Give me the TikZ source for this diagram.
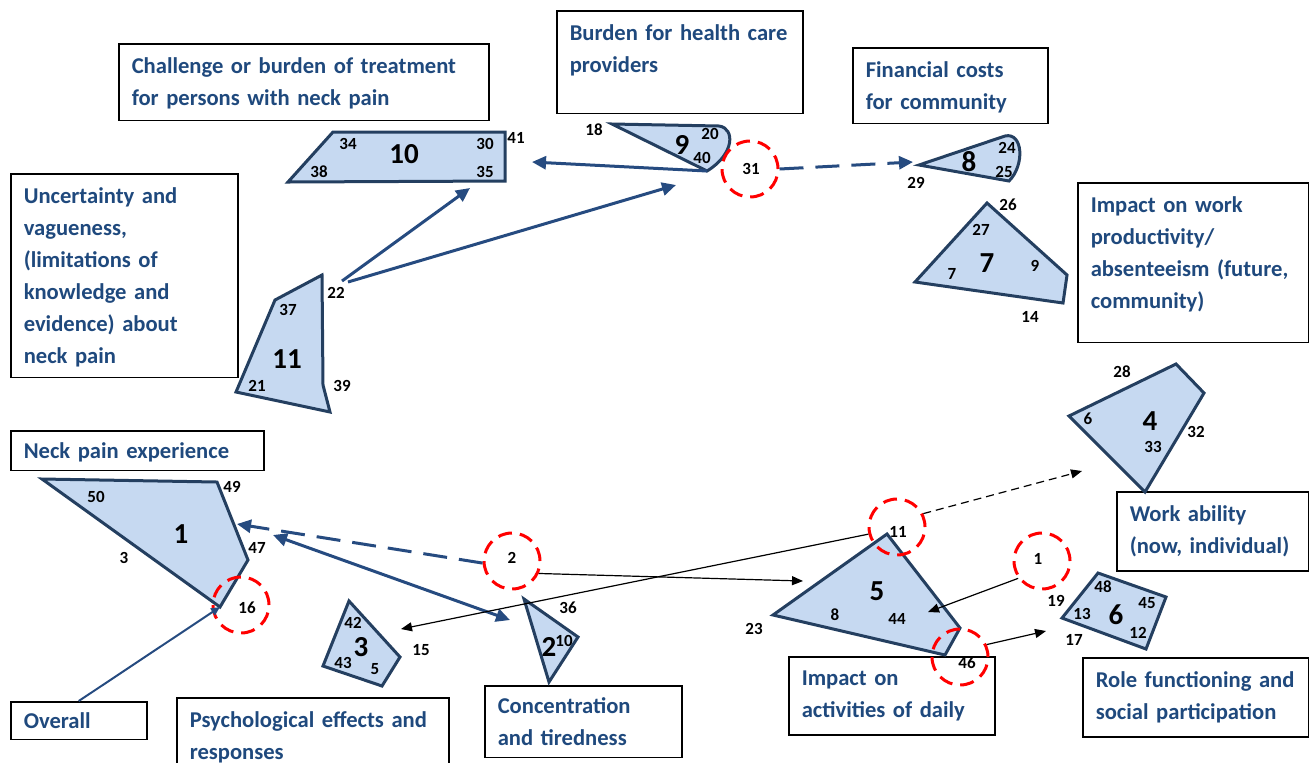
\documentclass[tikz,border=0pt]{standalone}
\usepackage{fontspec}
\setmainfont{Carlito}
\usetikzlibrary{arrows.meta}
\definecolor{txtblue}{RGB}{31,73,125}
\definecolor{polyfill}{RGB}{198,217,241}
\definecolor{polyedge}{RGB}{36,63,96}
\definecolor{arrblue}{RGB}{38,75,128}

\begin{document}
\begin{tikzpicture}[x=0.5pt, y=-0.5pt,
    box/.style={draw=black, line width=0.75pt, anchor=north west, align=left, text=txtblue,
      font=\fontsize{11.3}{16}\selectfont\bfseries, inner xsep=6.5pt, inner ysep=7pt, text width=#1},
    poly/.style={draw=polyedge, fill=polyfill, line width=1.5pt, line join=miter},
    num/.style={font=\fontsize{8.5}{10}\selectfont\bfseries, inner sep=0pt},
    big/.style={font=\fontsize{14.5}{16}\selectfont\bfseries, inner sep=0pt},
    ring/.style={circle, draw=red, line width=1.5pt, dash pattern=on 7pt off 4pt, minimum size=28pt, inner sep=0pt},
    arr/.style={draw=arrblue, line width=1.5pt, -{Triangle[length=7pt,width=6.5pt]}},
    darr/.style={arr, dash pattern=on 12pt off 6pt},
    fine/.style={draw=black, line width=0.6pt, -{Triangle[length=5.5pt,width=4.5pt]}},
    dfine/.style={fine, dash pattern=on 4pt off 2.5pt}]
  \useasboundingbox (0,0) rectangle (1309,762);
  \clip (0,0) rectangle (1309,762);

  % text boxes
  \node[box=172pt, text depth=16.5pt] (chal) at (118,43) {Challenge or burden of treatment\\for persons with neck pain};
  \node[box=110pt, text depth=29.5pt] (burden) at (556,10) {\mbox{Burden for health care}\\providers};
  \node[box=84.5pt, text depth=16pt] (fincost) at (852,47) {Financial costs\\for community};
  \node[box=100.5pt, text depth=80pt] (uncert) at (10,173) {Uncertainty and\\vagueness,\\(limitations of\\knowledge and\\evidence) about\\neck pain};
  \node[box=102.5pt, text depth=58pt] (workprod) at (1077,182) {Impact on work\\productivity/\\\mbox{absenteeism (future,}\\community)};
  \node[box=113.5pt, inner ysep=6pt, text depth=0pt] (neckpain) at (10,430) {Neck pain experience};
  \node[box=83pt] (workab) at (1116,491) {Work ability\\(now, individual)};
  \node[box=55pt, inner ysep=5.5pt, text depth=0pt] (overall) at (10,701) {Overall};
  \node[box=123pt] (psych) at (176,697) {Psychological effects and\\responses};
  \node[box=85.5pt, inner ysep=6pt, text depth=16pt] (concen) at (484,685) {Concentration\\and tiredness};
  \node[box=90pt] (daily) at (788,656) {Impact on\\activities of daily};
  \node[box=100pt] (role) at (1082,657) {\mbox{Role functioning and}\\social participation};

  % polygons
  \draw[poly] (288,182) -- (333,132) -- (505,132) -- (505,181) -- cycle;
  \draw[poly] (612,124) -- (719,126) .. controls (735,128) and (735,154) .. (707,171) -- cycle;
  \draw[poly] (919,165) -- (1005,136) .. controls (1023,132) and (1025,165) .. (1009,181) -- cycle;
  \draw[poly] (987,203) -- (1067,275) -- (1063,303) -- (915,282) -- cycle;
  \draw[poly] (322,275) -- (275,300) -- (236,392) -- (330,412) -- (323,385) -- cycle;
  \draw[poly] (1176,364) -- (1204,393) -- (1145,492) -- (1069,416) -- cycle;
  \draw[poly] (42,479) -- (217,482) -- (248,560) -- (220,607) -- cycle;
  \draw[poly] (349,601) -- (400,657) -- (382,686) -- (323,666) -- cycle;
  \draw[poly] (524,599) -- (578,637) -- (549,682) -- cycle;
  \draw[poly] (887,534) -- (960,628) -- (945,655) -- (773,615) -- cycle;
  \draw[poly] (1098,573) -- (1166,597) -- (1146,649) -- (1062,618) -- cycle;

  % numbers
  \node[big] (g10) at (404,154) {10};
  \node[num] (n34) at (348,144) {34};
  \node[num] (n30) at (485,144) {30};
  \node[num] (n38) at (319,172) {38};
  \node[num] (n35) at (485,172) {35};
  \node[num] (n41) at (516,138) {41};
  \node[big] (g9) at (682,145) {9};
  \node[num] (n18) at (594,130) {18};
  \node[num] (n20) at (710,134) {20};
  \node[num] (n40) at (702,158) {40};
  \node[big] (g8) at (969,162) {8};
  \node[num] (n24) at (1007,148) {24};
  \node[num] (n25) at (1004,172) {25};
  \node[num] (n29) at (916,183) {29};
  \node[big] (g7) at (987,263) {7};
  \node[num] (n26) at (1008,205) {26};
  \node[num] (n27) at (981,230) {27};
  \node[num] (n9) at (1035,266) {9};
  \node[num] (n7) at (952,274) {7};
  \node[num] (n14) at (1030,317) {14};
  \node[big] (g11) at (287,359) {11};
  \node[num] (n37) at (288,310) {37};
  \node[num] (n21) at (257,386) {21};
  \node[num] (n22) at (336,293) {22};
  \node[num] (n39) at (342,386) {39};
  \node[big] (g4) at (1150,421) {4};
  \node[num] (n28) at (1122,372) {28};
  \node[num] (n6) at (1088,419) {6};
  \node[num] (n33) at (1153,447) {33};
  \node[num] (n32) at (1196,432) {32};
  \node[big] (g1) at (181,534) {1};
  \node[num] (n50) at (96,497) {50};
  \node[num] (n49) at (232,487) {49};
  \node[num] (n47) at (257,548) {47};
  \node[num] (n3) at (124,558) {3};
  \node[big] (g3) at (361,647) {3};
  \node[num] (n42) at (353,623) {42};
  \node[num] (n43) at (343,663) {43};
  \node[num] (n5) at (375,669) {5};
  \node[num] (n15) at (421,650) {15};
  \node[big] (g2) at (549,647) {2};
  \node[num] (n36) at (568,608) {36};
  \node[num] (n10) at (564,641) {10};
  \node[big] (g5) at (877,591) {5};
  \node[num] (n8) at (835,615) {8};
  \node[num] (n44) at (897,619) {44};
  \node[num] (n23) at (754,629) {23};
  \node[big] (g6) at (1116,615) {6};
  \node[num] (n48) at (1103,587) {48};
  \node[num] (n45) at (1147,603) {45};
  \node[num] (n13) at (1082,614) {13};
  \node[num] (n12) at (1138,633) {12};
  \node[num] (n19) at (1056,601) {19};
  \node[num] (n17) at (1074,640) {17};

  % dashed rings
  \node[ring] (c31) at (750,169) {};
  \node[ring] (c2) at (512,561) {};
  \node[ring] (c11) at (897,527) {};
  \node[ring] (c1) at (1042,561) {};
  \node[ring] (c46) at (960,657) {};
  \node[ring] (c16) at (241,605) {};
  \node[num] (l31) at (751,169) {31};
  \node[num] (l2) at (512,558) {2};
  \node[num] (l11) at (898,532) {11};
  \node[num] (l1) at (1038,559) {1};
  \node[num] (l46) at (967,663) {46};
  \node[num] (l16) at (247,608) {16};

  % connector ends
  \coordinate (b9) at (707,171);
  \coordinate (t10) at (532,162);
  \coordinate (s22a) at (342,281);
  \coordinate (s22b) at (348,282);
  \coordinate (t10b) at (470,188);
  \coordinate (t9) at (676,185);
  \coordinate (t8) at (913,162);
  \coordinate (t1) at (237,524);
  \coordinate (d1) at (273,535);
  \coordinate (d2) at (510,620);
  \coordinate (t5) at (803,581);
  \coordinate (t3) at (401,629);
  \coordinate (t4) at (1082,471);
  \coordinate (t5b) at (928,612);
  \coordinate (t6) at (1046,631);
  \coordinate (b1) at (220,607);

  \draw[arr] (b9) -- (t10);
  \draw[arr] (s22a) -- (t10b);
  \draw[arr] (s22b) -- (t9);
  \draw[darr] (c31.east) -- (t8);
  \draw[darr] (c2.184) -- (t1);
  \draw[arr, {Triangle[length=7pt,width=6.5pt]}-{Triangle[length=7pt,width=6.5pt]}] (d1) -- (d2);
  \draw[fine] (c2.-25) -- (t5);
  \draw[fine] (c11.194) -- (t3);
  \draw[dfine] (c11.27) -- (t4);
  \draw[fine] (c1.216) -- (t5b);
  \draw[fine] (c46.25) -- (t6);
  \draw[draw=arrblue, line width=1pt, -{Triangle[length=4.5pt,width=4pt]}] (overall.north) -- (b1);
\end{tikzpicture}
\end{document}
